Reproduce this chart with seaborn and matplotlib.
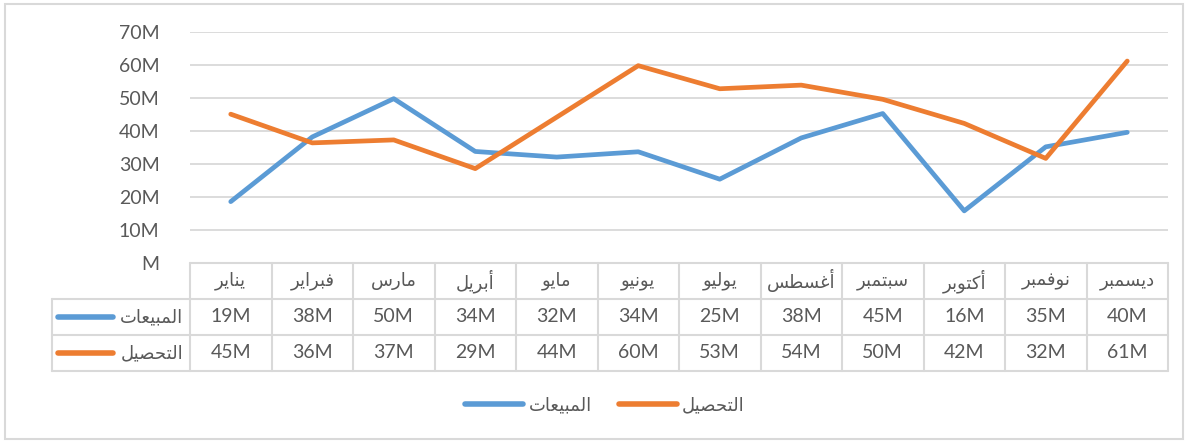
import matplotlib
matplotlib.use("Agg")
import matplotlib.pyplot as plt
import seaborn as sns
import pandas as pd
from matplotlib.patches import Rectangle

months = ["يناير", "فبراير", "مارس", "أبريل", "مايو", "يونيو",
          "يوليو", "أغسطس", "سبتمبر", "أكتوبر", "نوفمبر", "ديسمبر"]
series_names = ["المبيعات", "التحصيل"]
sales = [18.6, 38.2, 49.8, 33.8, 32.1, 33.7, 25.4, 37.9, 45.3, 15.8, 35.2, 39.6]
collection = [45.1, 36.4, 37.3, 28.6, 44.2, 59.8, 52.8, 53.9, 49.6, 42.3, 31.7, 61.2]
y_ticks = [0, 10, 20, 30, 40, 50, 60, 70]
colors = ["#5B9BD5", "#ED7D31"]

# presentation forms: isolated, final, initial, medial
FORMS = {
    "ا": ("\uFE8D", "\uFE8E", None, None),
    "أ": ("\uFE83", "\uFE84", None, None),
    "ب": ("\uFE8F", "\uFE90", "\uFE91", "\uFE92"),
    "ت": ("\uFE95", "\uFE96", "\uFE97", "\uFE98"),
    "ح": ("\uFEA1", "\uFEA2", "\uFEA3", "\uFEA4"),
    "د": ("\uFEA9", "\uFEAA", None, None),
    "ر": ("\uFEAD", "\uFEAE", None, None),
    "س": ("\uFEB1", "\uFEB2", "\uFEB3", "\uFEB4"),
    "ص": ("\uFEB9", "\uFEBA", "\uFEBB", "\uFEBC"),
    "ط": ("\uFEC1", "\uFEC2", "\uFEC3", "\uFEC4"),
    "ع": ("\uFEC9", "\uFECA", "\uFECB", "\uFECC"),
    "غ": ("\uFECD", "\uFECE", "\uFECF", "\uFED0"),
    "ف": ("\uFED1", "\uFED2", "\uFED3", "\uFED4"),
    "ك": ("\uFED9", "\uFEDA", "\uFEDB", "\uFEDC"),
    "ل": ("\uFEDD", "\uFEDE", "\uFEDF", "\uFEE0"),
    "م": ("\uFEE1", "\uFEE2", "\uFEE3", "\uFEE4"),
    "ن": ("\uFEE5", "\uFEE6", "\uFEE7", "\uFEE8"),
    "و": ("\uFEED", "\uFEEE", None, None),
    "ي": ("\uFEF1", "\uFEF2", "\uFEF3", "\uFEF4"),
}


def shape(word):
    """Arabic shaping + reversal for matplotlib (no complex text layout)"""
    out = []
    n = len(word)
    for i, ch in enumerate(word):
        f = FORMS.get(ch)
        if f is None:
            out.append(ch)
            continue
        prev_joins = i > 0 and word[i - 1] in FORMS and FORMS[word[i - 1]][2] is not None
        next_joins = i < n - 1 and word[i + 1] in FORMS and f[2] is not None
        if prev_joins and next_joins:
            out.append(f[3])
        elif prev_joins:
            out.append(f[1])
        elif next_joins:
            out.append(f[2])
        else:
            out.append(f[0])
    return "".join(reversed(out))


sns.set_theme(style="white")
plt.rcParams["font.family"] = ["Lato", "DejaVu Sans"]
text_color = "#595959"
grid_color = "#D9D9D9"

W, H = 1188, 443
fig = plt.figure(figsize=(W / 100, H / 100), dpi=100)

# outer chart border
fig.patches.append(Rectangle((5 / W, 4 / H), 1178 / W, 435 / H, transform=fig.transFigure,
                             fill=False, edgecolor=grid_color, lw=1.5))

left, right = 190, 1168
ax = fig.add_axes([left / W, (H - 263) / H, (right - left) / W, (263 - 32) / H])

df = pd.DataFrame({
    "x": list(range(12)) * 2,
    "value": sales + collection,
    "series": [series_names[0]] * 12 + [series_names[1]] * 12,
})
sns.lineplot(data=df, x="x", y="value", hue="series", palette=dict(zip(series_names, colors)),
             ax=ax, lw=3.4, legend=False, solid_capstyle="round")

ax.set_xlim(-0.5, 11.5)
ax.set_ylim(0, 70)
ax.set_yticks(y_ticks)
ax.set_yticklabels([f"{v}M" if v else "M" for v in y_ticks], fontsize=14, color=text_color)
ax.tick_params(axis="y", length=0, pad=22)
ax.set_xticks([])
ax.set_xlabel("")
ax.set_ylabel("")
ax.grid(axis="y", color=grid_color, lw=1.3)
for s in ax.spines.values():
    s.set_visible(False)

# data table under the plot
tab = fig.add_axes([left / W, (H - 371) / H, (right - left) / W, 108 / H], sharex=ax)
tab.set_ylim(3, 0)
tab.axis("off")
col_w = (right - left) / 12
x_far = -0.5 - (left - 52) / col_w

kw = dict(color=grid_color, lw=1.5, clip_on=False)
tab.plot([-0.5, 11.5], [0, 0], **kw)
for r in (1, 2, 3):
    tab.plot([x_far, 11.5], [r, r], **kw)
tab.plot([x_far, x_far], [1, 3], **kw)
for c in range(13):
    tab.plot([c - 0.5, c - 0.5], [0, 3], **kw)

for i, m in enumerate(months):
    tab.text(i, 0.5, shape(m), ha="center", va="center", fontsize=13,
             color=text_color, family="DejaVu Sans")
for r, vals in enumerate([sales, collection], start=1):
    for i, v in enumerate(vals):
        tab.text(i, r + 0.5, f"{round(v)}M", ha="center", va="center", fontsize=14, color=text_color)
    x0 = -0.5 - (left - 58) / col_w
    x1 = -0.5 - (left - 113) / col_w
    tab.plot([x0, x1], [r + 0.5, r + 0.5], color=colors[r - 1], lw=4,
             solid_capstyle="round", clip_on=False)
    tab.text(-0.5 - 7 / col_w, r + 0.5, shape(series_names[r - 1]), ha="right", va="center",
             fontsize=13, color=text_color, family="DejaVu Sans")

handles = [plt.Line2D([], [], color=c, lw=4, solid_capstyle="round") for c in colors]
leg = fig.legend(handles, [shape(s) for s in series_names], loc="center",
                 bbox_to_anchor=(605 / W, (H - 405) / H), ncol=2, frameon=False,
                 handlelength=3.2, handletextpad=0.3, columnspacing=1.5,
                 prop={"family": "DejaVu Sans", "size": 13})
for t in leg.get_texts():
    t.set_color(text_color)

fig.savefig("out.png", dpi=100)
